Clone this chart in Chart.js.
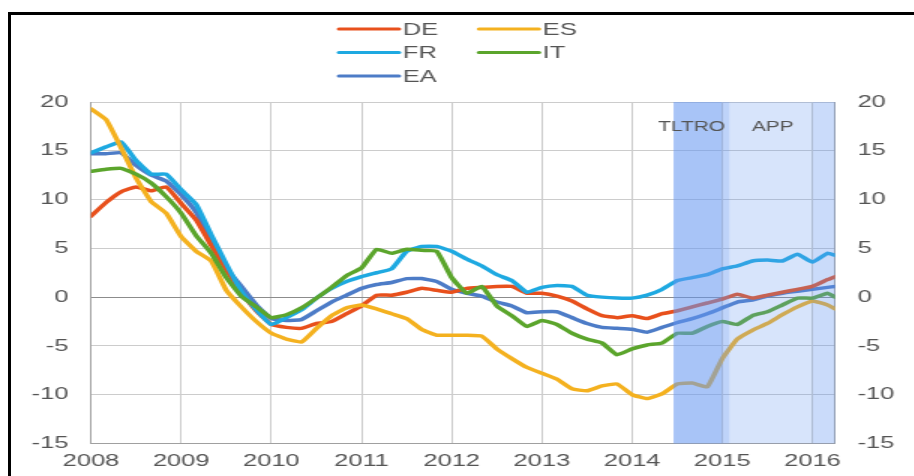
<!DOCTYPE html>
<html>
<head>
<meta charset="utf-8">
<script src="https://cdn.jsdelivr.net/npm/chart.js@4.4.1/dist/chart.umd.min.js"></script>
<style>
  html, body { margin: 0; padding: 0; background: #fff; overflow: hidden; width: 914px; height: 476px; }
  #chart { position: absolute; left: 0; top: 0; }
  #frame { position: absolute; left: 8px; top: 12px; width: 1000px; height: 1000px;
           border-left: 3px solid #000; border-top: 3px solid #000; pointer-events: none; }
</style>
</head>
<body>
<canvas id="chart" width="610" height="476" style="width:915px;height:476px"></canvas>
<div id="frame"></div>
<script>
// bi-monthly readings, year-on-year growth in %
const months = [
  "2008-01", "2008-03", "2008-05", "2008-07", "2008-09", "2008-11",
  "2009-01", "2009-03", "2009-05", "2009-07", "2009-09", "2009-11",
  "2010-01", "2010-03", "2010-05", "2010-07", "2010-09", "2010-11",
  "2011-01", "2011-03", "2011-05", "2011-07", "2011-09", "2011-11",
  "2012-01", "2012-03", "2012-05", "2012-07", "2012-09", "2012-11",
  "2013-01", "2013-03", "2013-05", "2013-07", "2013-09", "2013-11",
  "2014-01", "2014-03", "2014-05", "2014-07", "2014-09", "2014-11",
  "2015-01", "2015-03", "2015-05", "2015-07", "2015-09", "2015-11",
  "2016-01", "2016-03", "2016-04"
];

const DE = [
  8.3, 9.7, 10.8, 11.3, 10.9, 11.3,
  9.6, 7.9, 5.3, 2.8, 0.5, -1.4,
  -2.8, -3.1, -3.2, -2.7, -2.5, -1.7,
  -0.9, 0.2, 0.2, 0.5, 0.9, 0.7,
  0.5, 0.9, 1.0, 1.1, 1.1, 0.4,
  0.4, 0.1, -0.4, -1.2, -1.9, -2.1,
  -1.9, -2.2, -1.7, -1.4, -1.0, -0.6,
  -0.2, 0.3, -0.1, 0.2, 0.5, 0.8,
  1.1, 1.8, 2.1
];
const ES = [
  19.3, 18.2, 15.3, 12.2, 9.8, 8.6,
  6.2, 4.7, 3.7, 0.7, -1.0, -2.5,
  -3.7, -4.3, -4.6, -3.2, -1.9, -1.1,
  -0.8, -1.2, -1.7, -2.2, -3.3, -3.9,
  -3.9, -3.9, -4.0, -5.3, -6.3, -7.2,
  -7.8, -8.4, -9.4, -9.6, -9.1, -8.9,
  -10.0, -10.4, -9.9, -8.9, -8.8, -9.2,
  -6.3, -4.3, -3.4, -2.7, -1.8, -1.0,
  -0.4, -0.8, -1.2
];
const FR = [
  14.8, 15.4, 15.9, 14.0, 12.6, 12.6,
  11.0, 9.5, 6.4, 3.4, 0.6, -1.3,
  -2.8, -2.1, -1.3, -0.1, 0.9, 1.6,
  2.1, 2.5, 2.9, 4.7, 5.2, 5.2,
  4.7, 3.9, 3.2, 2.3, 1.7, 0.5,
  1.0, 1.2, 1.1, 0.2, 0.0, -0.1,
  -0.1, 0.2, 0.8, 1.7, 2.0, 2.3,
  2.9, 3.2, 3.7, 3.8, 3.7, 4.4,
  3.6, 4.5, 4.3
];
const IT = [
  12.9, 13.1, 13.2, 12.6, 11.7, 10.3,
  8.6, 6.3, 4.5, 2.0, 0.1, -1.0,
  -2.1, -1.8, -1.1, -0.1, 1.0, 2.2,
  3.0, 4.9, 4.5, 4.9, 4.8, 4.7,
  2.0, 0.4, 1.1, -0.9, -1.9, -3.0,
  -2.4, -2.8, -3.7, -4.3, -4.7, -5.9,
  -5.3, -4.9, -4.7, -3.7, -3.7, -3.0,
  -2.5, -2.8, -1.9, -1.5, -0.8, -0.1,
  -0.1, 0.4, 0.0
];
const EA = [
  14.7, 14.7, 14.8, 13.5, 12.5, 11.9,
  10.5, 8.7, 5.8, 3.0, 1.1, -0.8,
  -2.2, -2.4, -2.3, -1.4, -0.5, 0.2,
  0.9, 1.3, 1.5, 1.9, 1.9, 1.6,
  0.8, 0.4, 0.1, -0.5, -0.9, -1.6,
  -1.5, -1.5, -2.1, -2.7, -3.1, -3.2,
  -3.3, -3.6, -3.1, -2.6, -2.2, -1.7,
  -1.1, -0.5, -0.3, 0.1, 0.4, 0.6,
  0.8, 1.0, 1.1
];

const seriesNames = ["DE", "ES", "FR", "IT", "EA"];
const seriesData = [DE, ES, FR, IT, EA];
const seriesColors = ["#e8501c", "#f4b11f", "#1ea9e1", "#5ba52c", "#4d7cc7"];
const drawOrder = [3, 1, 2, 0, 4]; // lower is drawn on top

// policy periods (decimal years)
const tltroStart = 2014.46;
const appStart = 2015.08;

const toYear = m => {
  const [y, mo] = m.split("-").map(Number);
  return y + (mo - 1) / 12;
};
const xs = months.map(toYear);

const fontFamily = "'Liberation Sans', Arial, sans-serif";
const tickFont = { family: fontFamily, size: 17 };
const textColor = "#555";

const datasets = seriesNames.map((name, i) => ({
  label: name,
  data: seriesData[i].map((v, j) => ({ x: xs[j], y: v })),
  borderColor: seriesColors[i],
  borderWidth: 3.5,
  pointRadius: 0,
  tension: 0.12,
  borderCapStyle: "round",
  borderJoinStyle: "round",
  order: drawOrder[i]
}));

// shading for TLTRO / APP, drawn over the lines like in the original
const overlay = {
  id: "overlay",
  afterDatasetsDraw(chart) {
    const { ctx, chartArea: a, scales: { x } } = chart;
    const end = x.max;
    const shades = [
      [tltroStart, 2015.0, 0.56],
      [2015.0, appStart, 0.42],
      [appStart, 2016.0, 0.26],
      [2016.0, end, 0.34]
    ];
    ctx.save();
    shades.forEach(([from, to, alpha]) => {
      const x0 = x.getPixelForValue(from);
      const x1 = x.getPixelForValue(to);
      ctx.fillStyle = `rgba(100,150,240,${alpha})`;
      ctx.fillRect(x0, a.top, x1 - x0, a.bottom - a.top);
    });
    ctx.fillStyle = textColor;
    ctx.font = `14px ${fontFamily}`;
    ctx.textAlign = "center";
    ctx.textBaseline = "middle";
    ctx.fillText("TLTRO", x.getPixelForValue(2014.66), 127);
    ctx.fillText("APP", x.getPixelForValue(2015.56), 127);
    ctx.restore();
  },
  afterDraw(chart) {
    const ctx = chart.ctx;
    ctx.save();
    ctx.font = `17px ${fontFamily}`;
    ctx.textBaseline = "middle";
    ctx.lineWidth = 3;
    ctx.lineCap = "round";
    seriesNames.forEach((name, i) => {
      const col = i % 2, row = Math.floor(i / 2);
      const x0 = 226 + col * 93.3;
      const x1 = x0 + 40;
      const y = 29 + row * 23.5;
      ctx.strokeStyle = seriesColors[i];
      ctx.beginPath();
      ctx.moveTo(x0, y);
      ctx.lineTo(x1, y);
      ctx.stroke();
      ctx.fillStyle = textColor;
      ctx.fillText(name, x1 + 2.5, y + 1);
    });
    ctx.restore();
  }
};

const yAxis = (position, width, grid) => ({
  position,
  min: -15,
  max: 20,
  ticks: { stepSize: 5, color: textColor, font: tickFont, padding: 15 },
  grid: grid
    ? { color: c => (c.tick && c.tick.value === 0 ? "#8c8c8c" : "#cccccc"), lineWidth: 1, drawTicks: false }
    : { display: false, drawTicks: false },
  border: { color: "#a0a0a0", width: 1 },
  afterFit: s => { s.width = width; }
});

new Chart(document.getElementById("chart"), {
  type: "line",
  data: { datasets },
  options: {
    responsive: false,
    animation: false,
    devicePixelRatio: 1,
    layout: { padding: { top: 102, left: 0, right: 0, bottom: 0 } },
    plugins: { legend: { display: false }, tooltip: { enabled: false } },
    scales: {
      x: {
        type: "linear",
        min: 2008,
        max: 2016.25,
        ticks: {
          stepSize: 1,
          includeBounds: false,
          autoSkip: false,
          maxRotation: 0,
          color: textColor,
          font: tickFont,
          padding: 8,
          callback: v => (Number.isInteger(v) ? String(v) : "")
        },
        grid: { color: "#cccccc", lineWidth: 1, drawTicks: false },
        border: { color: "#a0a0a0", width: 1 },
        afterFit: s => { s.height = 32.5; }
      },
      y: yAxis("left", 60.67, true),
      y2: yAxis("right", 53.33, false)
    }
  },
  plugins: [overlay]
});
</script>
</body>
</html>
